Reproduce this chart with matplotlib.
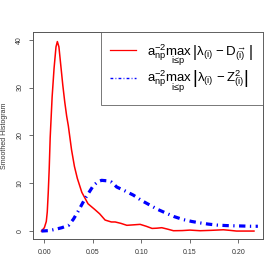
import matplotlib
matplotlib.use("Agg")
import matplotlib.pyplot as plt
from matplotlib.lines import Line2D

plt.rcParams['mathtext.fontset'] = 'custom'
plt.rcParams['mathtext.rm'] = 'Liberation Sans'
plt.rcParams['mathtext.it'] = 'Liberation Sans'
plt.rcParams['mathtext.bf'] = 'Liberation Sans:bold'
plt.rcParams['font.family'] = ['Liberation Sans', 'DejaVu Sans']

red_x = [-0.003, 0.0, 0.002, 0.003, 0.004, 0.005, 0.006, 0.008, 0.010, 0.012, 0.0134,
         0.015, 0.017, 0.019, 0.021, 0.023, 0.0247, 0.028, 0.031, 0.034, 0.0386, 0.045,
         0.052, 0.057, 0.0626, 0.069, 0.073, 0.079, 0.085, 0.092, 0.0987, 0.105, 0.111,
         0.116, 0.121, 0.127, 0.133, 0.142, 0.150, 0.1605, 0.172, 0.1845, 0.191, 0.198,
         0.207, 0.216]
red_y = [0.0, 0.7, 2.0, 4.0, 8.0, 13.0, 19.5, 28.0, 34.0, 38.5, 39.6,
         38.5, 34.5, 30.5, 27.0, 24.0, 22.0, 17.0, 13.5, 11.0, 8.1, 5.7,
         4.5, 3.6, 2.3, 1.9, 1.9, 1.6, 1.2, 1.3, 1.4, 1.0, 0.55,
         0.6, 0.7, 0.4, 0.07, 0.1, 0.2, 0.07, 0.15, 0.27, 0.15, 0.0,
         0.0, 0.0]

blue_x = [-0.003, 0.005, 0.011, 0.018, 0.025, 0.030, 0.035, 0.042, 0.0505, 0.055, 0.059,
          0.0645, 0.0695, 0.0746, 0.083, 0.0918, 0.100, 0.109, 0.117, 0.126, 0.134,
          0.143, 0.152, 0.1605, 0.169, 0.178, 0.187, 0.195, 0.205, 0.213, 0.220]
blue_y = [0.0, 0.1, 0.35, 0.7, 1.2, 2.5, 4.2, 6.8, 9.5, 10.3, 10.6,
          10.5, 10.2, 9.2, 8.4, 7.5, 6.4, 5.4, 4.5, 3.7, 3.0,
          2.4, 2.0, 1.7, 1.45, 1.25, 1.15, 1.1, 1.05, 1.0, 1.0]

label_red = r'$\mathrm{a}_{\mathrm{np}}^{-2}\max_{\mathrm{i}\leq \mathrm{p}}\,\left|\lambda_{(\mathrm{i})}-\mathrm{D}_{(\mathrm{i})}^{\rightarrow}\right|$'
label_blue = r'$\mathrm{a}_{\mathrm{np}}^{-2}\max_{\mathrm{i}\leq \mathrm{p}}\,\left|\lambda_{(\mathrm{i})}-\mathrm{Z}_{(\mathrm{i})}^{2}\right|$'

xticks = [0.00, 0.05, 0.10, 0.15, 0.20]
yticks = [0, 10, 20, 30, 40]

fig = plt.figure(figsize=(2.8, 2.8), dpi=100)
ax = fig.add_axes([33/280, 1-239/280, (263-33)/280, (239-32)/280])

ax.plot(red_x, red_y, color='red', lw=1.1)
ax.plot(blue_x, blue_y, color='blue', lw=2.3, dashes=(2.0, 1.4, 0.4, 1.4))

ax.set_xlim(-0.0117, 0.2253)
ax.set_ylim(-1.66, 41.6)
ax.set_xticks(xticks)
ax.set_xticklabels(['%.2f' % v for v in xticks])
ax.set_yticks(yticks)
ax.set_yticklabels([str(v) for v in yticks], rotation=90, va='center')
ax.tick_params(labelsize=5, colors='#555555', length=3, width=0.6, pad=4)
for lab in ax.get_xticklabels() + ax.get_yticklabels():
    lab.set_color('#333333')
for s in ax.spines.values():
    s.set_color('#555555')
    s.set_linewidth(0.7)
ax.set_ylabel('Smoothed Histogram', fontsize=5, color='#333333', labelpad=6)

handles = [Line2D([], [], color='red', lw=0.9),
           Line2D([], [], color='blue', lw=1.0, dashes=(2.0, 1.6, 0.6, 1.6))]
leg = ax.legend(handles, [label_red, label_blue], loc='upper right', borderaxespad=0,
                fontsize=9.5, frameon=True, fancybox=False, handlelength=1.9,
                handletextpad=0.9, labelspacing=0.08, borderpad=0.75)
leg.get_frame().set_edgecolor('#555555')
leg.get_frame().set_linewidth(0.7)

fig.savefig('out.png', dpi=100)
